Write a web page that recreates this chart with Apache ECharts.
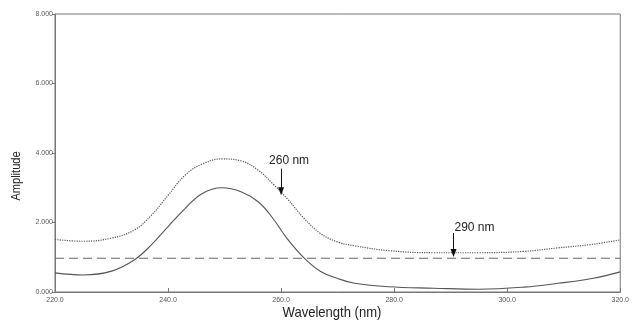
<!DOCTYPE html>
<html>
<head>
<meta charset="utf-8">
<script src="https://cdn.jsdelivr.net/npm/echarts@6/dist/echarts.min.js"></script>
<style>html,body{margin:0;padding:0;background:#fff;}#c{width:632px;height:322px;}</style>
</head>
<body>
<div id="c"></div>
<script>
var wavelengths = [220, 225, 230, 234, 237, 240, 243, 246, 249.5, 253, 256, 258.5, 261, 264, 267, 270, 273, 279, 287, 295, 303, 309, 315, 320];
var solidValues = [0.55, 0.49, 0.60, 0.92, 1.35, 1.88, 2.40, 2.83, 3.00, 2.88, 2.59, 2.13, 1.55, 0.99, 0.59, 0.39, 0.25, 0.15, 0.11, 0.08, 0.14, 0.25, 0.39, 0.58];
var dottedValues = [1.51, 1.46, 1.55, 1.78, 2.20, 2.78, 3.36, 3.68, 3.83, 3.77, 3.50, 3.12, 2.70, 2.13, 1.68, 1.44, 1.33, 1.19, 1.13, 1.13, 1.17, 1.27, 1.37, 1.50];
var dashedX = [220, 320];
var dashedValues = [0.97, 0.97];
var annotationX = [260, 290.5];
var annotationTop = [3.55, 1.70];
var annotationBottom = [2.90, 1.12];
var annotationText = ['260 nm', '290 nm'];
var annotationShift = [[8, 3], [21, 6]];

function pairs(xs, ys){ return xs.map(function(x,i){ return [x, ys[i]]; }); }

var markData = annotationX.map(function(x,i){
  return [
    {coord:[x, annotationTop[i]], symbol:'none', label:{formatter: annotationText[i], offset: annotationShift[i]}},
    {coord:[x, annotationBottom[i]], symbol:'triangle', symbolRotate:180}
  ];
});

var chart = echarts.init(document.getElementById('c'));
chart.setOption({
  backgroundColor:'#fff',
  animation:false,
  grid:{left:55, right:6, top:14, bottom:30, show:true, borderColor:'#777', borderWidth:1},
  xAxis:{
    type:'value', min:220, max:320, interval:20,
    axisLine:{lineStyle:{color:'#777'}},
    axisTick:{inside:true, length:4, lineStyle:{color:'#777'}},
    splitLine:{show:false},
    axisLabel:{fontSize:7, color:'#555', fontFamily:'Liberation Sans', margin:5,
      formatter:function(v){return v.toFixed(1);}}
  },
  yAxis:{
    type:'value', min:0, max:8, interval:2,
    axisLine:{show:true, lineStyle:{color:'#777'}},
    axisTick:{show:true, length:3, lineStyle:{color:'#777'}},
    splitLine:{show:false},
    axisLabel:{fontSize:7, color:'#555', fontFamily:'Liberation Sans', margin:2,
      formatter:function(v){return v.toFixed(3);}}
  },
  graphic:[
    {type:'text', x:332, y:313, scaleX:0.87, style:{text:'Wavelength (nm)', font:'15px "Liberation Sans"', fill:'#222', align:'center', verticalAlign:'middle'}},
    {type:'text', x:16, y:176, rotation:Math.PI/2, scaleX:0.85, style:{text:'Amplitude', font:'13px "Liberation Sans"', fill:'#222', align:'center', verticalAlign:'middle'}}
  ],
  series:[
    {type:'line', data:pairs(wavelengths, dottedValues), smooth:0.4, symbol:'none',
      lineStyle:{color:'#555', width:1.2, type:'dotted'}},
    {type:'line', data:pairs(wavelengths, solidValues), smooth:0.4, symbol:'none',
      lineStyle:{color:'#555', width:1.1}},
    {type:'line', data:pairs(dashedX, dashedValues), symbol:'none',
      lineStyle:{color:'#666', width:1.1, type:[9,5]},
      markLine:{
        silent:true, symbolSize:[6,8],
        lineStyle:{color:'#111', width:1, type:'solid'},
        label:{show:true, position:'start', fontSize:12, color:'#222', fontFamily:'Liberation Sans'},
        data: markData
      }}
  ]
});
</script>
</body>
</html>
